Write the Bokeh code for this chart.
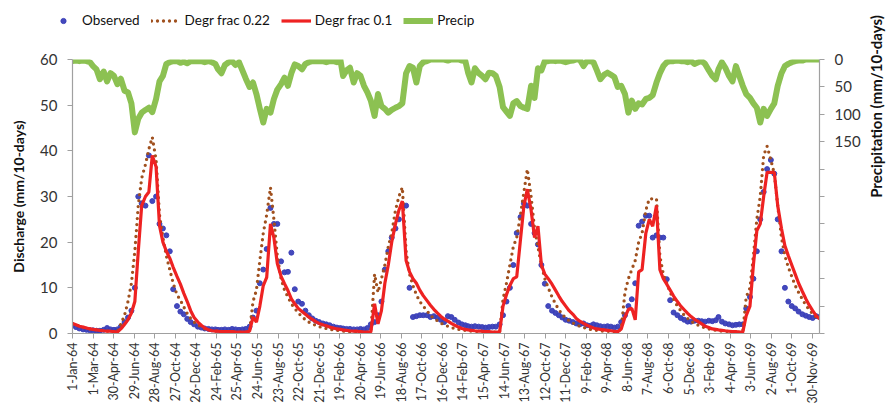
import datetime as dt
import math
from bokeh.plotting import figure
from bokeh.layouts import row, column
from bokeh.models import (Range1d, LinearAxis, FixedTicker, Legend, LegendItem,
                          ColumnDataSource, Label)
from bokeh.embed import file_html
from bokeh.resources import INLINE

# ---------------- data (10-day values, 1964-1969) ----------------
START = dt.date(1964, 1, 1)
YEARS = [1964, 1965, 1966, 1967, 1968, 1969]
DEKAD_DAYS = [1, 11, 21]

TICK_LABELS = ["1-Jan-64", "1-Mar-64", "30-Apr-64", "29-Jun-64", "28-Aug-64", "27-Oct-64",
               "26-Dec-64", "24-Feb-65", "25-Apr-65", "24-Jun-65", "23-Aug-65", "22-Oct-65",
               "21-Dec-65", "19-Feb-66", "20-Apr-66", "19-Jun-66", "18-Aug-66", "17-Oct-66",
               "16-Dec-66", "14-Feb-67", "15-Apr-67", "14-Jun-67", "13-Aug-67", "12-Oct-67",
               "11-Dec-67", "9-Feb-68", "9-Apr-68", "8-Jun-68", "7-Aug-68", "6-Oct-68",
               "5-Dec-68", "3-Feb-69", "4-Apr-69", "3-Jun-69", "2-Aug-69", "1-Oct-69",
               "30-Nov-69"]
TICK_STEP_DAYS = 60

observed = [
    # 1964
    1.8, 1.4, 1.1, 0.9, 0.8, 0.7, 0.7, 0.6, 0.6, 0.8, 1.2, 0.9, 0.8, 0.9, 1.5, 2.5, 3.5, 5,
    10, 30, 28.5, 28, 39, 29, 30, 24, 23, 21.5, 18, 9.7, 6, 4.8, 4.2, 3.2, 2.5, 2.0,
    # 1965
    1.5, 1.3, 1.1, 1.0, 0.9, 0.9, 0.8, 0.8, 0.9, 0.8, 1.0, 0.9, 0.8, 0.9, 1.0, 1.5, 3.5, 5,
    11, 14, 18.5, 27.5, 24, 24, 15.8, 13.4, 13.5, 17.7, 9.7, 7, 6.5, 5, 4, 3.3, 2.8, 2.5,
    # 1966
    2.2, 2.0, 1.8, 1.5, 1.3, 1.2, 1.1, 1.0, 1.0, 0.9, 0.9, 1.0, 0.9, 1.2, 2, 2.5, 4, 7,
    14, 18, 21, 23, 25, 28, 28, 10, 3.6, 3.8, 4, 4, 4, 3.6, 3.8, 3.5, 3, 2.5,
    # 1967
    3.8, 3.6, 3, 2.4, 2, 1.8, 1.6, 1.5, 1.6, 1.5, 1.4, 1.3, 1.4, 1.5, 1.5, 2, 4, 7,
    10, 15, 22, 25.5, 28.5, 28, 24, 22, 19.5, 15, 10.9, 6, 5, 4.5, 4, 3.5, 3, 2.8,
    # 1968
    2.5, 2.2, 2.0, 2.2, 1.8, 1.7, 2, 1.8, 1.6, 1.5, 1.6, 1.5, 1.3, 1.5, 2.5, 4, 6, 7.5,
    11, 23.6, 24.5, 25.8, 25.8, 21, 21.5, 21, 21, 11.9, 7.3, 4.6, 4, 3.4, 3, 2.6, 2.6, 2.8,
    # 1969
    2.8, 2.7, 2.6, 2.8, 2.7, 2.9, 3.6, 2.6, 2.2, 2, 1.8, 1.9, 2, 2, 5.5, 8, 12, 18,
    25, 31, 36, 38, 35, 25, 18, 10, 7, 6, 5.5, 4.8, 4.2, 3.9, 3.6, 3.4, 3.8, 3.6,
]

degr_frac_022 = [
    2.2, 1.9, 1.6, 1.4, 1.2, 1.0, 0.9, 0.8, 0.7, 0.6, 0.5, 0.5, 0.4, 0.3, 2, 4, 7, 11,
    18, 28, 34, 37, 40.4, 43, 38, 26, 21, 17, 14, 11, 8.5, 7.3, 5.8, 4.4, 3.3, 2.5,
    1.9, 1.4, 1.0, 0.8, 0.6, 0.5, 0.5, 0.4, 0.4, 0.4, 0.4, 0.3, 0.3, 0.3, 0.3, 0.5, 7, 9.5,
    16, 22, 26, 32, 25, 17, 12, 9.5, 8, 6.5, 5.5, 4.5, 3.7, 3, 2.5, 2.1, 1.8, 1.5,
    1.3, 1.1, 0.9, 0.8, 0.7, 0.6, 0.5, 0.5, 0.4, 0.4, 0.4, 0.3, 0.3, 0.3, 0.3, 13, 9, 12,
    15, 19, 22, 27, 30, 32, 18, 13, 10.5, 8.5, 7, 6, 5, 4, 3.3, 2.8, 2.3, 1.9,
    1.6, 1.3, 1.1, 0.9, 0.8, 0.7, 0.6, 0.5, 0.5, 0.4, 0.4, 0.4, 0.3, 0.3, 0.3, 0.3, 7.5, 11,
    15, 19, 21, 26, 31, 36, 30, 23, 19, 15, 12, 10, 8, 6.5, 5.2, 4.2, 3.4, 2.8,
    2.3, 1.9, 1.6, 1.3, 1.1, 0.9, 0.8, 0.7, 0.6, 0.5, 0.5, 0.4, 0.4, 0.4, 1, 9, 12, 14,
    16, 20, 22, 27, 29.5, 29.5, 29.5, 17, 13, 11, 9, 7.5, 6, 5, 4, 3.3, 2.7, 2.2,
    1.8, 1.5, 1.2, 1.0, 0.8, 0.7, 0.6, 0.5, 0.5, 0.4, 0.4, 0.3, 0.3, 0.3, 8, 10, 17, 25,
    30, 39, 41, 38, 35, 28, 21, 17, 14.5, 12.5, 10.5, 9, 7.5, 6.2, 5.2, 4.3, 3.6, 3,
]

degr_frac_01 = [
    2.2, 1.9, 1.6, 1.4, 1.2, 1.0, 0.9, 0.8, 0.7, 0.6, 0.5, 0.5, 0.4, 0.3, 1.0, 2.0, 3.0, 4.5,
    7.0, 18, 28, 30, 31, 39, 36.5, 23.6, 20, 18, 16.5, 14.5, 12.5, 10.8, 8.8, 7.0, 5.0, 3.5,
    2.5, 1.8, 1.2, 0.8, 0.6, 0.5, 0.5, 0.4, 0.4, 0.4, 0.4, 0.3, 0.3, 0.3, 0.3, 0.5, 3.6, 2.5,
    6, 10.5, 12.3, 24, 21, 15.3, 12.5, 10.9, 9.4, 7.6, 6.5, 5.5, 4.8, 4.2, 3.6, 3.1, 2.6, 2.2,
    1.9, 1.7, 1.4, 1.2, 1.0, 0.9, 0.8, 0.7, 0.6, 0.5, 0.5, 0.4, 0.3, 0.3, 0.3, 6.5, 2.1, 5,
    11, 15, 20, 24, 27, 29, 16, 13.5, 12, 11, 9.5, 8.3, 7.2, 6.2, 5.3, 4.5, 3.8, 3.2,
    2.7, 2.2, 1.8, 1.4, 1.1, 0.9, 0.8, 0.7, 0.6, 0.5, 0.5, 0.4, 0.4, 0.3, 0.3, 0.3, 6, 8.5,
    10.5, 12, 12.4, 20.6, 28, 31.6, 27, 21, 23.5, 15, 13, 12, 10.8, 9.5, 8.2, 7, 6, 5,
    4.2, 3.3, 2.7, 2.2, 1.8, 1.5, 1.2, 1.0, 0.9, 0.8, 0.7, 0.6, 0.5, 0.4, 1, 3.6, 5.3, 5.5,
    3, 13.5, 14, 22, 25, 23.5, 28, 14, 12, 10.8, 9.5, 8.2, 7, 6, 5.2, 4.4, 3.7, 3.1,
    2.6, 2.1, 1.6, 1.3, 1.0, 0.9, 0.8, 0.7, 0.6, 0.5, 0.4, 0.4, 0.3, 0.3, 3.9, 6, 15, 22.5,
    24, 30, 35.3, 35.3, 35.3, 28, 23, 19.2, 17, 15, 13, 11, 9.2, 7.6, 6.2, 5, 3.9, 3.2,
]

precip = [
    3, 2, 3, 2, 3, 5, 12, 18, 36, 22, 40, 25, 30, 45, 35, 57, 60, 80,
    133, 108, 97, 92, 88, 96, 72, 40, 30, 8, 5, 3, 3, 6, 4, 7, 3, 3,
    3, 3, 5, 3, 5, 8, 18, 25, 10, 5, 3, 10, 5, 20, 35, 50, 42, 63,
    90, 115, 90, 97, 72, 55, 45, 33, 48, 25, 9, 12, 18, 8, 5, 3, 3, 3,
    3, 5, 3, 3, 5, 0, 30, 20, 15, 42, 25, 30, 48, 60, 75, 103, 63, 85,
    90, 97, 92, 88, 85, 80, 25, 12, 15, 42, 12, 5, 3, 0, 0, 0, 0, 0,
    2, 0, 0, 0, 2, 3, 24, 42, 16, 25, 30, 36, 24, 25, 30, 50, 87, 95,
    103, 80, 76, 85, 88, 90, 48, 70, 16, 20, 3, 3, 2, 3, 2, 3, 5, 3,
    2, 0, 0, 12, 3, 3, 5, 20, 36, 28, 24, 28, 32, 50, 48, 63, 97, 75,
    90, 80, 82, 72, 70, 65, 42, 25, 12, 5, 3, 3, 2, 3, 3, 5, 3, 8,
    5, 3, 8, 20, 30, 36, 18, 5, 15, 30, 40, 12, 30, 48, 63, 70, 80, 88,
    115, 90, 103, 90, 80, 48, 25, 12, 8, 5, 3, 2, 2, 0, 0, 0, 0, 0,
]

SERIES_NAMES = ["Observed", "Degr frac 0.22", "Degr frac 0.1", "Precip"]
LEFT_TITLE = "Discharge (mm/10-days)"
RIGHT_TITLE = "Precipitation (mm/10-days)"

# ---------------- styles ----------------
FONT = "Lato"
AX_GREY = "#A0A0A0"
TXT = "#333333"
C_OBS, C_022, C_01, C_PR = "#3A3FB8", "#A0501E", "#EE2222", "#8CC152"

W_TOTAL, H_TOTAL = 887, 417
TITLE_W = 24          # strip on the right holding the rotated precipitation title
LEG_H = 32            # strip on the top holding the legend
MAIN_W = W_TOTAL - TITLE_W
MAIN_H = H_TOTAL - LEG_H

dates = [dt.date(y, m, d) for y in YEARS for m in range(1, 13) for d in DEKAD_DAYS]
xdays = [(d - START).days for d in dates]
src = ColumnDataSource(dict(x=xdays, obs=observed, d022=degr_frac_022,
                            d01=degr_frac_01, pr=precip))


def draw_series(fig, pr_range=None):
    kw = {} if pr_range is None else {"y_range_name": pr_range}
    a = fig.scatter("x", "obs", source=src, size=5, color=C_OBS, alpha=0.95)
    b = fig.line("x", "d022", source=src, line_color=C_022, line_width=3.3,
                 line_dash="0 6", line_cap="round")
    c = fig.line("x", "d01", source=src, line_color=C_01, line_width=3.2)
    d = fig.line("x", "pr", source=src, line_color=C_PR, line_width=6,
                 line_join="round", **kw)
    return [a, b, c, d]


# ---------------- main chart ----------------
p = figure(width=MAIN_W, height=MAIN_H, output_backend="svg", toolbar_location=None,
           x_range=Range1d(0, xdays[-1]), y_range=Range1d(0, 60),
           min_border_left=72, min_border_right=MAIN_W - 822,
           min_border_top=59 - LEG_H, min_border_bottom=84)
p.extra_y_ranges = {"pr": Range1d(500, 0)}
p.grid.visible = False
p.outline_line_color = None

tick_pos = [i * TICK_STEP_DAYS for i in range(len(TICK_LABELS))]
xa = p.xaxis[0]
xa.ticker = FixedTicker(ticks=tick_pos)
xa.major_label_overrides = {t: lab for t, lab in zip(tick_pos, TICK_LABELS)}
xa.major_label_orientation = math.pi / 2
xa.major_label_standoff = 4
xa.major_label_text_font_size = "12.5px"

ya = p.yaxis[0]
ya.ticker = FixedTicker(ticks=[0, 10, 20, 30, 40, 50, 60])
ya.major_label_standoff = 10
ya.major_label_text_font_size = "15px"
ya.axis_label = LEFT_TITLE
ya.axis_label_text_font = FONT
ya.axis_label_text_font_size = "14px"
ya.axis_label_text_font_style = "bold"
ya.axis_label_text_color = "#111111"
ya.axis_label_standoff = 10

pr_ticks = list(range(0, 501, 50))
ra = LinearAxis(y_range_name="pr", ticker=FixedTicker(ticks=pr_ticks))
ra.major_label_overrides = {t: ("" if t > 150 else str(t)) for t in pr_ticks}
ra.major_label_standoff = 10
ra.major_label_text_font_size = "15px"
p.add_layout(ra, "right")

for ax in (xa, ya, ra):
    ax.axis_line_color = AX_GREY
    ax.major_tick_line_color = AX_GREY
    ax.axis_line_width = 1.2
    ax.minor_tick_line_color = None
    ax.major_tick_out = 5
    ax.major_tick_in = 0
    ax.major_label_text_font = FONT
    ax.major_label_text_color = TXT

draw_series(p, "pr")

# ---------------- legend strip (same series, ranges chosen so no data is in view) ----
lf = figure(width=MAIN_W, height=LEG_H, output_backend="svg", toolbar_location=None,
            x_range=Range1d(-2, -1), y_range=Range1d(-2, -1),
            x_axis_location=None, y_axis_location=None,
            min_border=0, min_border_left=0, min_border_right=0,
            min_border_top=0, min_border_bottom=0)
lf.grid.visible = False
lf.outline_line_color = None
legend_x = 48
try:
    lf.frame_align = False      # do not align this strip's frame with the chart's frame
except Exception:
    legend_x = 0                # frame then starts at the chart's left edge
leg_renderers = draw_series(lf)
legend = Legend(items=[LegendItem(label=n, renderers=[r]) for n, r in
                       zip(SERIES_NAMES, leg_renderers)],
                orientation="horizontal", location=(legend_x, 2),
                glyph_width=30, glyph_height=13, label_height=20,
                label_standoff=4, spacing=11, padding=0, margin=0,
                border_line_alpha=0, background_fill_alpha=0,
                label_text_font=FONT, label_text_font_size="13.5px",
                label_text_color="#111111")
lf.add_layout(legend)

# ---------------- right title strip ----------------
tf = figure(width=TITLE_W, height=H_TOTAL, output_backend="svg", toolbar_location=None,
            x_range=Range1d(0, 1), y_range=Range1d(0, 1),
            x_axis_location=None, y_axis_location=None,
            min_border=0, min_border_left=0, min_border_right=0,
            min_border_top=0, min_border_bottom=0)
tf.grid.visible = False
tf.outline_line_color = None
tf.add_layout(Label(x=TITLE_W / 2, y=H_TOTAL - 106, x_units="screen", y_units="screen",
                    text=RIGHT_TITLE, angle=math.pi / 2,
                    text_align="center", text_baseline="middle",
                    text_font=FONT, text_font_size="15px", text_font_style="bold",
                    text_color="#111111"))

layout = row(column(lf, p, spacing=0), tf, spacing=0)
open("out.html", "w").write(file_html(layout, INLINE))
